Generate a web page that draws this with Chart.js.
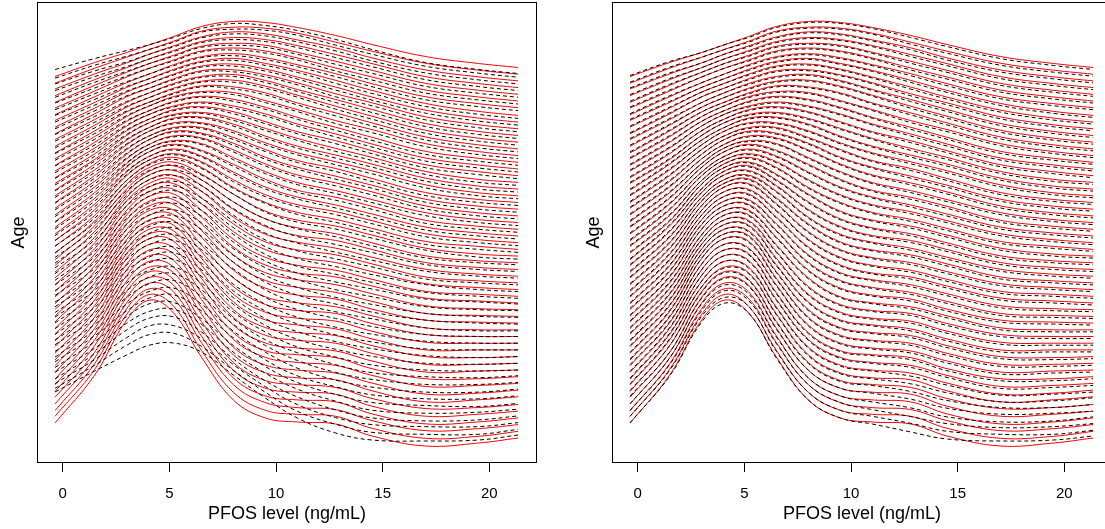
<!DOCTYPE html>
<html><head><meta charset="utf-8">
<script src="https://cdn.jsdelivr.net/npm/chart.js@4/dist/chart.umd.min.js"></script>
<style>
html,body{margin:0;padding:0;background:#fff;overflow:hidden;width:1105px;height:529px;}
.panel{position:absolute;top:0;width:575px;height:529px;}
</style></head><body>
<div class="panel" style="left:0"><canvas id="c1" width="575" height="529"></canvas></div>
<div class="panel" style="left:575px"><canvas id="c2" width="575" height="529"></canvas></div>
<script>
// PFOS level grid (ng/mL) at which every curve is read
const pfosGrid = [-0.36, 1.5, 3, 4.1, 5.2, 6.5, 8, 9.5, 11, 12.8, 14.5, 17, 19.5, 21.35];
const xTicks = [0, 5, 10, 15, 20];
// age rank of each stacked curve (bottom = youngest)
const ageRank = [0,1,2,3,4,5,6,7,8,9,10,11,12,13,14,15,16,17,18,19,20,21,22,23,24,25,26,27,
  28,29,30,31,32,33,34,35,36,37,38,39,40,41,42,43,44,45,46,47,48,49,50,51,52,53,54,55];

// red solid curves (same estimate in both panels), density height per grid point
const redDensity = [
 [26,74,129,149,136,92,49,31,27,25,13,3,6,11],
 [26,73,128,148,136,92,50,32,28,26,14,4,6,11],
 [25,72,127,147,137,93,51,33,28,26,15,5,7,11],
 [25,71,126,146,137,93,51,33,29,27,15,5,7,11],
 [25,70,125,145,137,94,52,34,30,28,16,6,8,11],
 [24,70,124,144,136,94,53,35,31,28,17,7,8,11],
 [24,69,122,142,136,95,54,36,31,29,18,7,9,12],
 [23,68,121,141,135,95,55,37,32,29,19,8,9,12],
 [23,67,120,140,135,96,56,38,33,30,20,9,10,12],
 [23,66,119,139,135,96,56,38,34,31,20,10,10,12],
 [22,65,118,138,134,97,57,39,34,31,21,10,11,12],
 [22,64,117,137,134,97,58,40,35,32,22,11,11,12],
 [22,63,115,135,133,97,59,41,36,33,23,12,11,12],
 [21,62,113,133,131,97,60,42,37,33,23,12,12,12],
 [21,61,111,131,130,97,61,43,37,34,24,13,12,12],
 [20,60,109,129,128,97,62,44,38,35,25,14,12,12],
 [20,59,107,127,127,97,64,45,39,35,26,14,12,12],
 [19,58,106,125,125,98,65,47,40,36,26,15,13,12],
 [19,57,104,123,124,98,66,48,41,36,27,15,13,12],
 [18,56,102,121,122,98,67,49,42,37,28,16,13,12],
 [18,55,100,119,121,98,68,50,42,38,29,17,14,12],
 [17,54,98,117,119,98,69,51,43,38,29,17,14,12],
 [17,53,96,115,118,98,70,52,44,39,30,18,14,12],
 [17,52,94,112,116,97,71,53,45,40,31,18,14,12],
 [16,51,91,109,113,97,71,54,46,40,31,19,14,12],
 [16,50,89,107,111,96,72,55,46,41,32,19,14,12],
 [15,49,86,104,109,95,73,56,47,41,32,19,14,12],
 [15,47,84,101,106,94,74,57,48,42,33,20,14,12],
 [15,46,81,98,104,94,74,59,49,42,33,20,15,12],
 [14,45,79,95,101,93,75,60,50,43,34,21,15,12],
 [14,44,76,92,99,92,76,61,51,43,34,21,15,12],
 [14,43,74,90,97,91,77,62,51,44,35,21,15,12],
 [13,42,71,87,94,91,77,63,52,44,35,22,15,12],
 [13,41,69,84,92,90,78,64,53,45,36,22,15,12],
 [13,40,67,82,90,88,78,64,54,45,36,22,15,12],
 [12,39,65,79,87,87,77,65,54,46,36,22,15,12],
 [12,38,63,77,85,85,77,65,55,46,37,23,15,12],
 [11,37,61,74,83,84,77,65,55,46,37,23,15,12],
 [11,35,59,72,80,82,76,66,56,46,37,23,15,12],
 [10,34,57,69,78,81,76,66,56,47,37,23,16,12],
 [10,33,55,67,75,79,75,67,57,47,37,23,16,12],
 [9,32,53,64,73,78,75,67,57,47,37,23,16,12],
 [9,31,51,62,71,76,75,67,58,47,38,24,16,12],
 [8,30,49,59,68,75,74,68,58,48,38,24,16,12],
 [8,29,47,57,66,73,74,68,59,48,38,24,16,12],
 [8,28,45,55,64,71,73,67,58,48,38,24,16,12],
 [7,27,44,53,62,70,71,66,58,47,38,24,16,12],
 [7,26,42,51,60,68,70,65,57,47,37,24,16,12],
 [7,25,40,49,58,66,69,64,57,47,37,24,16,12],
 [6,24,38,47,56,64,67,63,56,47,37,24,17,13],
 [6,23,37,46,54,63,66,63,56,46,37,24,17,13],
 [5,22,35,44,52,61,64,62,55,46,37,24,17,13],
 [5,21,33,42,50,59,63,61,55,46,37,24,17,13],
 [5,20,31,40,48,57,62,60,54,46,36,24,17,13],
 [4,19,30,38,46,56,60,59,54,45,36,24,17,13],
 [4,18,28,36,44,54,59,58,53,45,36,24,17,13]
];

// black dashed curves, left panel
const dashLeftDensity = [
 [57,78,94,104,106,97,74,51,31,16,9,8,9,14],
 [54,77,97,108,109,96,72,50,31,18,10,8,8,13],
 [52,76,98,110,110,97,71,49,31,18,11,9,9,13],
 [50,75,99,111,112,97,70,48,32,19,11,8,9,13],
 [50,74,99,111,113,98,70,49,33,21,12,9,10,13],
 [48,74,99,112,113,97,70,49,33,21,13,10,9,12],
 [47,73,98,111,114,98,71,49,33,22,14,10,10,13],
 [45,72,98,111,114,98,71,50,34,22,15,10,10,13],
 [44,71,98,112,115,99,71,50,35,23,16,11,11,13],
 [44,70,98,112,115,99,70,49,36,24,16,12,11,13],
 [42,69,99,112,115,99,70,50,35,25,17,12,11,12],
 [41,68,99,113,116,99,71,50,36,26,19,12,11,12],
 [40,67,98,112,116,99,71,50,37,27,20,13,11,12],
 [39,66,97,111,115,99,71,51,38,27,20,13,12,12],
 [38,65,96,111,115,99,71,51,38,28,21,14,12,12],
 [36,63,95,110,114,99,71,51,39,30,22,14,12,12],
 [35,62,94,109,114,98,73,52,39,30,23,14,11,11],
 [33,61,94,109,113,99,73,53,40,31,23,15,12,11],
 [33,60,93,108,113,99,73,53,41,31,24,15,12,11],
 [31,59,92,107,112,99,73,54,42,32,25,15,12,11],
 [30,58,91,107,112,99,73,54,42,33,26,16,13,11],
 [28,57,90,106,111,98,74,54,42,34,26,16,12,10],
 [28,56,89,106,111,98,74,55,43,35,27,17,12,10],
 [27,55,89,104,109,97,74,55,44,36,28,16,12,10],
 [25,54,87,102,107,97,73,55,45,36,28,17,12,10],
 [24,53,86,102,106,96,73,56,45,37,29,17,12,10],
 [22,52,84,100,105,95,73,56,46,38,29,17,12,10],
 [22,50,83,98,103,93,74,56,46,39,30,18,11,9],
 [21,49,81,97,102,93,73,58,47,39,30,17,12,9],
 [19,48,80,95,100,92,73,58,48,40,31,18,12,9],
 [19,47,77,92,98,91,74,59,49,40,31,18,12,9],
 [19,46,75,90,96,90,75,60,49,41,32,18,12,9],
 [18,45,72,87,93,90,75,61,50,41,32,19,12,9],
 [18,44,70,84,91,89,76,62,51,42,33,19,12,9],
 [18,43,68,82,89,87,76,62,52,42,33,19,12,9],
 [17,42,66,79,86,86,75,63,52,43,33,19,12,9],
 [17,41,64,77,84,84,75,63,53,43,34,20,12,9],
 [16,40,62,74,82,83,75,63,53,43,34,20,12,9],
 [16,38,60,72,79,81,74,64,54,43,34,20,12,9],
 [15,37,58,69,77,80,74,64,54,44,34,20,13,9],
 [15,36,56,67,74,78,73,65,55,44,34,20,13,9],
 [14,35,54,64,72,77,73,65,55,44,34,20,13,9],
 [14,34,52,62,70,75,73,65,56,44,35,21,13,9],
 [13,33,50,59,67,74,72,66,56,45,35,21,13,9],
 [13,32,48,57,65,72,72,66,57,45,35,21,13,9],
 [13,31,46,55,63,70,71,65,56,45,35,21,13,9],
 [12,30,45,53,61,69,69,64,56,44,35,21,13,9],
 [12,29,43,51,59,67,68,63,55,44,34,21,13,9],
 [12,28,41,49,57,65,67,62,55,44,34,21,13,9],
 [11,27,39,47,55,63,65,61,54,44,34,21,14,10],
 [11,26,38,46,53,62,64,61,54,43,34,21,14,10],
 [10,25,36,44,51,60,62,60,53,43,34,21,14,10],
 [10,24,34,42,49,58,61,59,53,43,34,21,14,10],
 [10,23,32,40,47,56,60,58,52,43,33,21,14,10],
 [9,22,31,38,45,55,58,57,52,42,33,21,14,10],
 [11,22,30,36,43,52,57,55,50,41,31,18,11,7]
];

// black dashed curves, right panel
const dashRightDensity = [
 [26,73,127,146,136,91,49,31,25,17,10,8,9,13],
 [26,72,126,145,136,91,50,32,26,19,11,8,8,12],
 [25,71,125,145,135,92,51,33,26,19,12,8,9,12],
 [25,71,125,144,135,92,51,33,27,21,12,7,8,12],
 [26,70,124,144,136,93,52,34,29,23,14,8,9,11],
 [25,70,123,143,135,93,52,34,30,24,15,8,8,11],
 [25,70,122,141,135,94,53,35,30,25,16,7,8,11],
 [24,69,121,141,134,94,54,36,31,26,17,7,8,10],
 [24,68,120,140,134,95,55,37,32,28,18,7,8,10],
 [24,67,119,139,134,95,55,37,33,29,18,8,8,10],
 [23,66,118,138,133,96,56,38,33,29,19,8,9,10],
 [23,65,117,137,133,96,57,39,34,30,20,9,9,10],
 [23,64,115,135,132,96,58,40,35,31,21,10,9,10],
 [22,63,113,133,130,96,59,41,36,31,21,10,10,10],
 [22,62,111,131,129,96,60,42,36,32,22,11,10,10],
 [21,61,109,129,127,96,61,43,37,33,23,12,10,10],
 [21,60,107,127,126,96,63,44,38,33,24,12,10,10],
 [20,59,106,125,124,97,64,46,39,34,24,13,11,10],
 [20,58,104,123,123,97,65,47,40,34,25,13,11,10],
 [19,57,102,121,121,97,66,48,41,35,26,14,11,10],
 [19,56,100,119,120,97,67,49,41,36,27,15,12,10],
 [18,55,98,117,118,97,68,50,42,36,27,15,12,10],
 [18,54,96,115,117,97,69,51,43,37,28,16,12,10],
 [18,53,94,112,115,96,70,52,44,38,29,16,12,10],
 [17,52,91,109,112,96,70,53,45,38,29,17,12,10],
 [17,51,89,107,110,95,71,54,45,39,30,17,12,10],
 [16,50,86,104,108,94,72,55,46,39,30,17,12,10],
 [16,48,84,101,105,93,73,56,47,40,31,18,12,10],
 [16,47,81,98,103,93,73,58,48,40,31,18,13,10],
 [15,46,79,95,100,92,74,59,49,41,32,19,13,10],
 [15,45,76,92,98,91,75,60,50,41,32,19,13,10],
 [15,44,74,90,96,90,76,61,50,42,33,19,13,10],
 [14,43,71,87,93,90,76,62,51,42,33,20,13,10],
 [14,42,69,84,91,89,77,63,52,43,34,20,13,10],
 [14,41,67,82,89,87,77,63,53,43,34,20,13,10],
 [13,40,65,79,86,86,76,64,53,44,34,20,13,10],
 [13,39,63,77,84,84,76,64,54,44,35,21,13,10],
 [12,38,61,74,82,83,76,64,54,44,35,21,13,10],
 [12,36,59,72,79,81,75,65,55,44,35,21,13,10],
 [11,35,57,69,77,80,75,65,55,45,35,21,14,10],
 [11,34,55,67,74,78,74,66,56,45,35,21,14,10],
 [10,33,53,64,72,77,74,66,56,45,35,21,14,10],
 [10,32,51,62,70,75,74,66,57,45,36,22,14,10],
 [9,31,49,59,67,74,73,67,57,46,36,22,14,10],
 [9,30,47,57,65,72,73,67,58,46,36,22,14,10],
 [9,29,45,55,63,70,72,66,57,46,36,22,14,10],
 [8,28,44,53,61,69,70,65,57,45,36,22,14,10],
 [8,27,42,51,59,67,69,64,56,45,35,22,14,10],
 [8,26,40,49,57,65,68,63,56,45,35,22,14,10],
 [7,25,38,47,55,63,66,62,55,45,35,22,15,11],
 [7,24,37,46,53,62,65,62,55,44,35,22,15,11],
 [6,23,35,44,51,60,63,61,54,44,35,22,15,11],
 [6,22,33,42,49,58,62,60,54,44,35,22,15,11],
 [6,21,31,40,47,56,61,59,53,44,34,22,15,11],
 [5,20,30,38,45,55,59,58,53,43,34,22,15,11],
 [5,19,28,36,43,53,58,57,52,43,34,22,15,11]
];

const ridgeStep = 6.7, ridgeBase = 13;   // vertical stacking of the age curves
const FONT = "'Liberation Sans', Arial, Helvetica, sans-serif";

const framePlugin = {
  id: 'frame',
  afterDatasetsDraw(chart) {
    const a = chart.chartArea, ctx = chart.ctx;
    ctx.save();
    ctx.strokeStyle = '#000'; ctx.lineWidth = 1;
    ctx.strokeRect(Math.round(a.left) + 0.5, Math.round(a.top) - 0.5, Math.round(a.right - a.left) - 1, Math.round(a.bottom - a.top) + 1);
    ctx.restore();
  }
};

function curveSets(rows, color, dash, order) {
  return rows.map((row, i) => ({
    data: pfosGrid.map((x, j) => ({ x: x, y: ridgeBase + ridgeStep * ageRank[i] + row[j] })),
    borderColor: color, borderWidth: 1, borderDash: dash,
    pointRadius: 0, tension: 0.4, fill: false, order: order
  }));
}

function makeChart(id, redRows, dashRows) {
  return new Chart(document.getElementById(id), {
    type: 'line',
    data: { datasets: curveSets(redRows, '#ff0000', [], 2).concat(curveSets(dashRows, '#000000', [4, 3], 1)) },
    options: {
      responsive: false, animation: false, devicePixelRatio: 1,
      layout: { padding: { left: 0, right: 38, top: 3, bottom: 0 } },
      plugins: { legend: { display: false }, tooltip: { enabled: false } },
      scales: {
        x: {
          type: 'linear', min: -1.205, max: 22.236,
          afterBuildTicks: s => { s.ticks = xTicks.map(v => ({ value: v })); },
          afterFit: s => { s.height = 67; },
          grid: { display: true, drawOnChartArea: false, drawTicks: true, tickLength: 10, color: '#000', lineWidth: 1 },
          border: { display: false },
          ticks: { color: '#000', font: { family: FONT, size: 15 }, padding: 13, maxRotation: 0, autoSkip: false },
          title: { display: true, text: 'PFOS level (ng/mL)', color: '#000', font: { family: FONT, size: 18 }, padding: { top: 0, bottom: 4 } }
        },
        y: {
          type: 'linear', min: 0, max: 459,
          afterFit: s => { s.width = 37; },
          ticks: { display: false },
          grid: { display: false },
          border: { display: false },
          title: { display: true, text: 'Age', color: '#000', font: { family: FONT, size: 18 }, padding: { top: 8, bottom: 0 } }
        }
      }
    },
    plugins: [framePlugin]
  });
}
makeChart('c1', redDensity, dashLeftDensity);
makeChart('c2', redDensity, dashRightDensity);
</script></body></html>
